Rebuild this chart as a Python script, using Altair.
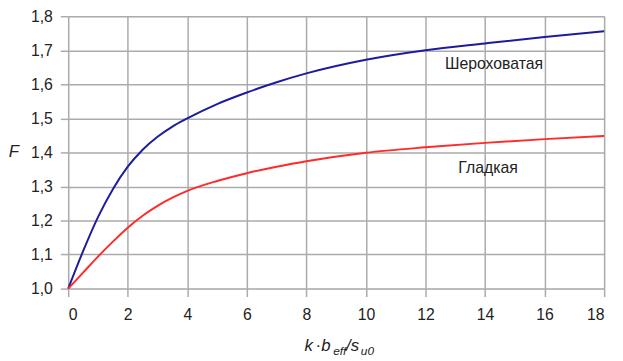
import altair as alt
import pandas as pd

x_rough = [0, 0.5, 1, 1.5, 2, 2.5, 3, 3.5, 4, 5, 6, 7, 8, 10, 12, 14, 16, 18]
y_rough = [1.0, 1.11, 1.21, 1.292, 1.358, 1.408, 1.446, 1.476, 1.50, 1.542, 1.576, 1.606, 1.632, 1.672, 1.70, 1.72, 1.739, 1.756]

x_smooth = [0, 0.5, 1, 1.5, 2, 2.5, 3, 3.5, 4, 5, 6, 7, 8, 10, 12, 14, 16, 18]
y_smooth = [1.0, 1.047, 1.094, 1.138, 1.179, 1.214, 1.243, 1.267, 1.287, 1.316, 1.339, 1.358, 1.374, 1.399, 1.415, 1.428, 1.439, 1.448]

labels = ["Шероховатая", "Гладкая"]
label_x = [14.3, 14.1]
label_y = [1.658, 1.355]

x_ticks = [0, 2, 4, 6, 8, 10, 12, 14, 16, 18]
y_ticks = [1.0, 1.1, 1.2, 1.3, 1.4, 1.5, 1.6, 1.7, 1.8]

FONT = "Liberation Sans"

df = pd.concat([
    pd.DataFrame({"x": x_rough, "y": y_rough, "s": "rough"}),
    pd.DataFrame({"x": x_smooth, "y": y_smooth, "s": "smooth"}),
])
lab = pd.DataFrame({"t": labels, "x": label_x, "y": label_y})

xs = alt.Scale(domain=[0, 18], nice=False, zero=False)
ys = alt.Scale(domain=[1.0, 1.8], nice=False, zero=False)

GRID = "#ababab"

lines = alt.Chart(df).mark_line(strokeWidth=2, interpolate="monotone").encode(
    x=alt.X("x:Q", scale=xs, axis=alt.Axis(values=x_ticks, tickCount=20, title=None, grid=True, domain=False,
                                           tickColor=GRID, tickSize=8, tickWidth=1.5,
                                           labelPadding=10, labelFontSize=16, labelColor="#222",
                                           labelFont=FONT, gridColor=GRID, gridWidth=1.5,
                                           labelOverlap=False)),
    y=alt.Y("y:Q", scale=ys, axis=alt.Axis(values=y_ticks, tickCount=20, title=None, grid=True, domain=False,
                                           tickColor=GRID, tickSize=8, tickWidth=1.5,
                                           labelPadding=8, labelFontSize=16, labelColor="#222",
                                           labelFont=FONT, gridColor=GRID, gridWidth=1.5,
                                           labelOverlap=False,
                                           labelExpr="replace(format(datum.value, '.1f'), '.', ',')")),
    color=alt.Color("s:N", scale=alt.Scale(domain=["rough", "smooth"], range=["#1c1c9c", "#ff2a2a"]), legend=None),
)

texts = alt.Chart(lab).mark_text(fontSize=16, font=FONT, color="#222").encode(
    x=alt.X("x:Q", scale=xs), y=alt.Y("y:Q", scale=ys), text="t:N"
)

def piece(txt, px, py, size, style="italic"):
    return alt.Chart(pd.DataFrame({"t": [txt]})).mark_text(
        fontSize=size, font=FONT, fontStyle=style, color="#222", align="left", baseline="alphabetic"
    ).encode(x=alt.value(px), y=alt.value(py), text="t:N")

title_parts = [
    piece("k", 239.5, 339, 17),
    piece("·", 250.5, 339, 17),
    piece("b", 256.5, 339, 17),
    piece("eff", 268.5, 343, 12),
    piece("/s", 281.5, 339, 17),
    piece("u0", 296.5, 343, 12),
]
f_label = alt.Chart(pd.DataFrame({"t": ["F"]})).mark_text(
    fontSize=17, font=FONT, fontStyle="italic", color="#222", align="center", baseline="middle"
).encode(x=alt.value(-55), y=alt.value(138), text="t:N")

chart = alt.layer(lines, texts, *title_parts, f_label).properties(
    width=543, height=276, autosize="none",
    padding={"left": 61, "top": 6, "right": 11, "bottom": 70},
).configure_view(stroke=None).configure(background="white")

chart.save("out.html", embed_options={"renderer": "svg", "actions": False})
